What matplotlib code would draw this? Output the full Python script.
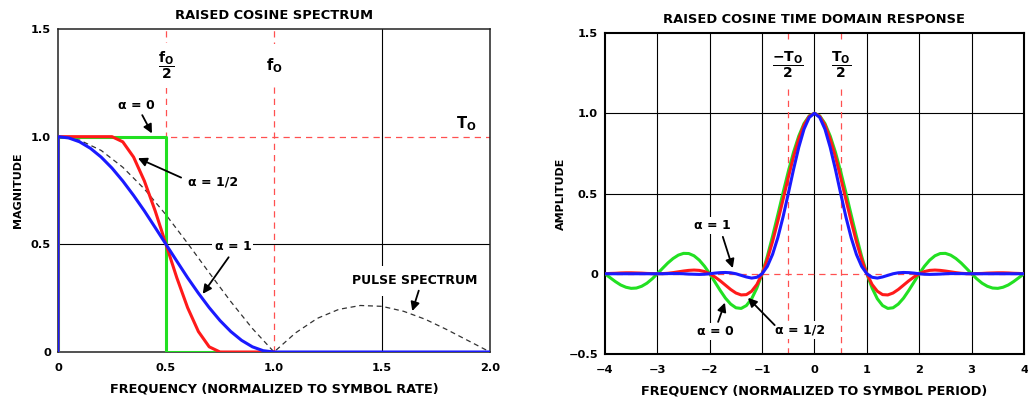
import numpy as np
import matplotlib.pyplot as plt

plt.rcParams['font.family'] = 'DejaVu Sans'
plt.rcParams['font.weight'] = 'bold'
plt.rcParams['axes.titleweight'] = 'bold'
plt.rcParams['axes.labelweight'] = 'bold'
plt.rcParams['mathtext.fontset'] = 'dejavusans'
plt.rcParams['mathtext.default'] = 'bf'

# ---- raised cosine spectrum (left panel) ----
freq_a1 = [0, 0, 0.05, 0.10, 0.15, 0.20, 0.25, 0.30, 0.35, 0.40, 0.45, 0.50,
           0.55, 0.60, 0.65, 0.70, 0.75, 0.80, 0.85, 0.90, 0.95, 1.00, 2.00]
mag_a1 = [0, 1.000, 0.994, 0.976, 0.946, 0.905, 0.854, 0.794, 0.727, 0.655, 0.578, 0.500,
          0.422, 0.345, 0.273, 0.206, 0.146, 0.095, 0.054, 0.024, 0.006, 0.000, 0.000]

freq_a05 = [0, 0, 0.25, 0.30, 0.35, 0.40, 0.45, 0.50, 0.55, 0.60, 0.65, 0.70, 0.75, 1.00]
mag_a05 = [0, 1.000, 1.000, 0.976, 0.905, 0.794, 0.655, 0.500, 0.345, 0.206, 0.095, 0.024, 0.000, 0.000]

freq_a0 = [0, 0, 0.5, 0.5, 0.75]
mag_a0 = [0, 1.0, 1.0, 0.0, 0.0]

freq_pulse = [0.0, 0.1, 0.2, 0.3, 0.4, 0.5, 0.6, 0.7, 0.8, 0.9, 1.0,
              1.1, 1.2, 1.3, 1.4, 1.5, 1.6, 1.7, 1.8, 1.9, 2.0]
mag_pulse = [1.000, 0.984, 0.936, 0.858, 0.757, 0.637, 0.505, 0.368, 0.234, 0.109, 0.000,
             0.089, 0.156, 0.198, 0.216, 0.212, 0.189, 0.152, 0.104, 0.052, 0.000]

# ---- raised cosine time response (right panel) ----
t = np.round(np.linspace(-4, 4, 81), 1)
amp_a0 = [0.000, -0.025, -0.049, -0.070, -0.084, -0.091, -0.089, -0.078, -0.059, -0.032,
          0.000, 0.034, 0.067, 0.095, 0.116, 0.127, 0.126, 0.112, 0.085, 0.047,
          0.000, -0.052, -0.104, -0.152, -0.189, -0.212, -0.216, -0.198, -0.156, -0.089,
          0.000, 0.109, 0.234, 0.368, 0.505, 0.637, 0.757, 0.858, 0.936, 0.984,
          1.000,
          0.984, 0.936, 0.858, 0.757, 0.637, 0.505, 0.368, 0.234, 0.109, 0.000,
          -0.089, -0.156, -0.198, -0.216, -0.212, -0.189, -0.152, -0.104, -0.052, 0.000,
          0.047, 0.085, 0.112, 0.126, 0.127, 0.116, 0.095, 0.067, 0.034, 0.000,
          -0.032, -0.059, -0.078, -0.089, -0.091, -0.084, -0.070, -0.049, -0.025, 0.000]
amp_a05 = [0.000, 0.002, 0.003, 0.005, 0.006, 0.006, 0.005, 0.004, 0.002, 0.001,
           0.000, 0.001, 0.003, 0.007, 0.012, 0.017, 0.021, 0.023, 0.021, 0.014,
           0.000, -0.020, -0.044, -0.071, -0.098, -0.120, -0.132, -0.130, -0.109, -0.067,
           0.000, 0.090, 0.201, 0.328, 0.463, 0.600, 0.729, 0.840, 0.927, 0.981,
           1.000,
           0.981, 0.927, 0.840, 0.729, 0.600, 0.463, 0.328, 0.201, 0.090, 0.000,
           -0.067, -0.109, -0.130, -0.132, -0.120, -0.098, -0.071, -0.044, -0.020, 0.000,
           0.014, 0.021, 0.023, 0.021, 0.017, 0.012, 0.007, 0.003, 0.001, 0.000,
           0.001, 0.002, 0.004, 0.005, 0.006, 0.006, 0.005, 0.003, 0.002, 0.000]
amp_a1 = [0.000, 0.000, 0.000, 0.000, 0.000, 0.000, 0.000, 0.000, 0.000, 0.000,
          0.000, 0.000, 0.001, 0.001, 0.001, 0.000, -0.002, -0.003, -0.004, -0.003,
          0.000, 0.004, 0.007, 0.008, 0.006, 0.000, -0.010, -0.020, -0.027, -0.022,
          0.000, 0.046, 0.121, 0.225, 0.354, 0.500, 0.650, 0.788, 0.901, 0.974,
          1.000,
          0.974, 0.901, 0.788, 0.650, 0.500, 0.354, 0.225, 0.121, 0.046, 0.000,
          -0.022, -0.027, -0.020, -0.010, 0.000, 0.006, 0.008, 0.007, 0.004, 0.000,
          -0.003, -0.004, -0.003, -0.002, 0.000, 0.001, 0.001, 0.001, 0.000, 0.000,
          0.000, 0.000, 0.000, 0.000, 0.000, 0.000, 0.000, 0.000, 0.000, 0.000]

GREEN = '#22e022'
RED = '#ff1a1a'
BLUE = '#1a1aff'
GRID_RED = '#ff5050'
DASH = (0, (5, 4))
box = dict(facecolor='white', edgecolor='none', pad=1.5)
tallbox = dict(facecolor='white', edgecolor='none', pad=5)
arrow = dict(arrowstyle='-|>', color='black', lw=1.3, mutation_scale=13, shrinkA=0, shrinkB=0)

fig = plt.figure(figsize=(10.28, 4.01), dpi=100)

# ================= left panel =================
ax1 = fig.add_axes([0.0564, 0.1222, 0.4203, 0.8055])
ax1.axhline(0.5, color='black', lw=0.8, zorder=1)
ax1.axvline(1.5, color='black', lw=0.8, zorder=1)
ax1.axhline(1.0, color=GRID_RED, lw=0.9, ls=DASH, zorder=1)
for x in [0.5, 1.0]:
    ax1.axvline(x, color=GRID_RED, lw=0.9, ls=DASH, zorder=1)

ax1.plot(freq_pulse, mag_pulse, color='#333333', lw=0.9, ls=(0, (4, 3)), zorder=2)
ax1.plot(freq_a0, mag_a0, color=GREEN, lw=2.2, zorder=3)
ax1.plot(freq_a05, mag_a05, color=RED, lw=2.2, zorder=3)
ax1.plot(freq_a1, mag_a1, color=BLUE, lw=2.2, zorder=3)

ax1.set_xlim(0, 2.0)
ax1.set_ylim(0, 1.5)
ax1.set_xticks([0, 0.5, 1.0, 1.5, 2.0], ['0', '0.5', '1.0', '1.5', '2.0'])
ax1.set_yticks([0, 0.5, 1.0, 1.5], ['0', '0.5', '1.0', '1.5'])
ax1.set_title('RAISED COSINE SPECTRUM', fontsize=9.4, pad=7)
ax1.set_xlabel('FREQUENCY (NORMALIZED TO SYMBOL RATE)', fontsize=9.3, labelpad=7)
ax1.set_ylabel('MAGNITUDE', fontsize=8, labelpad=6)

ax1.text(0.5, 1.33, r'$\dfrac{f_O}{2}$', fontsize=10, ha='center', va='center', bbox=tallbox, zorder=2.5)
ax1.text(1.0, 1.33, r'$f_O$', fontsize=10.5, ha='center', va='center',
         bbox=dict(facecolor='white', edgecolor='none', pad=9), zorder=2.5)
ax1.text(1.89, 1.06, r'$T_O$', fontsize=10.5, ha='center', va='center', zorder=2.5)
ax1.text(0.365, 1.145, 'α = 0', fontsize=9, ha='center', va='center', zorder=2.5)
ax1.annotate('', xy=(0.435, 1.015), xytext=(0.39, 1.10), arrowprops=arrow, zorder=4)
ax1.text(0.72, 0.79, 'α = 1/2', fontsize=9, ha='center', va='center', zorder=2.5)
ax1.annotate('', xy=(0.37, 0.90), xytext=(0.57, 0.81), arrowprops=arrow, zorder=4)
ax1.text(0.81, 0.49, 'α = 1', fontsize=9, ha='center', va='center', bbox=box, zorder=2.5)
ax1.annotate('', xy=(0.67, 0.27), xytext=(0.79, 0.44), arrowprops=arrow, zorder=4)
ax1.text(1.65, 0.33, 'PULSE SPECTRUM', fontsize=9, ha='center', va='center',
         bbox=dict(facecolor='white', edgecolor='none', pad=6), zorder=2.5)
ax1.annotate('', xy=(1.64, 0.19), xytext=(1.67, 0.285), arrowprops=arrow, zorder=4)

# ================= right panel =================
ax2 = fig.add_axes([0.5885, 0.1172, 0.4076, 0.8005])
for x in [-3, -2, -1, 0, 1, 2, 3]:
    ax2.axvline(x, color='black', lw=0.8, zorder=1)
for y in [0.5, 1.0]:
    ax2.axhline(y, color='black', lw=0.8, zorder=1)
ax2.axhline(0, color=GRID_RED, lw=0.9, ls=DASH, zorder=1.5)
for x in [-0.5, 0.5]:
    ax2.axvline(x, color=GRID_RED, lw=0.9, ls=DASH, zorder=1.5)

ax2.plot(t, amp_a0, color=GREEN, lw=2.2, zorder=3)
ax2.plot(t, amp_a05, color=RED, lw=2.2, zorder=3)
ax2.plot(t, amp_a1, color=BLUE, lw=2.2, zorder=3)

ax2.set_xlim(-4, 4)
ax2.set_ylim(-0.5, 1.5)
ax2.set_xticks([-4, -3, -2, -1, 0, 1, 2, 3, 4])
ax2.set_yticks([-0.5, 0, 0.5, 1.0, 1.5], ['\u22120.5', '0', '0.5', '1.0', '1.5'])
ax2.set_title('RAISED COSINE TIME DOMAIN RESPONSE', fontsize=9.4, pad=7)
ax2.set_xlabel('FREQUENCY (NORMALIZED TO SYMBOL PERIOD)', fontsize=9.3, labelpad=7)
ax2.set_ylabel('AMPLITUDE', fontsize=8, labelpad=2)

ax2.text(-0.5, 1.30, r'$\dfrac{-T_O}{2}$', fontsize=10, ha='center', va='center', bbox=tallbox, zorder=2.5)
ax2.text(0.5, 1.30, r'$\dfrac{T_O}{2}$', fontsize=10, ha='center', va='center', bbox=tallbox, zorder=2.5)
ax2.text(-1.94, 0.30, 'α = 1', fontsize=9, ha='center', va='center', bbox=box, zorder=2.5)
ax2.annotate('', xy=(-1.56, 0.035), xytext=(-1.75, 0.23), arrowprops=arrow, zorder=4)
ax2.text(-1.90, -0.36, 'α = 0', fontsize=9, ha='center', va='center', bbox=box, zorder=2.5)
ax2.annotate('', xy=(-1.71, -0.18), xytext=(-1.84, -0.30), arrowprops=arrow, zorder=4)
ax2.text(-0.28, -0.35, 'α = 1/2', fontsize=9, ha='center', va='center', bbox=box, zorder=2.5)
ax2.annotate('', xy=(-1.27, -0.15), xytext=(-0.76, -0.32), arrowprops=arrow, zorder=4)

for ax in (ax1, ax2):
    ax.tick_params(length=0, labelsize=8.2)
    ax.tick_params(axis='x', pad=8)
    ax.tick_params(axis='y', pad=5)
for sp in ax1.spines.values():
    sp.set_linewidth(1.1)
    sp.set_color('#222222')
for sp in ax2.spines.values():
    sp.set_linewidth(1.5)
    sp.set_color('black')

fig.savefig('out.png', dpi=100)
